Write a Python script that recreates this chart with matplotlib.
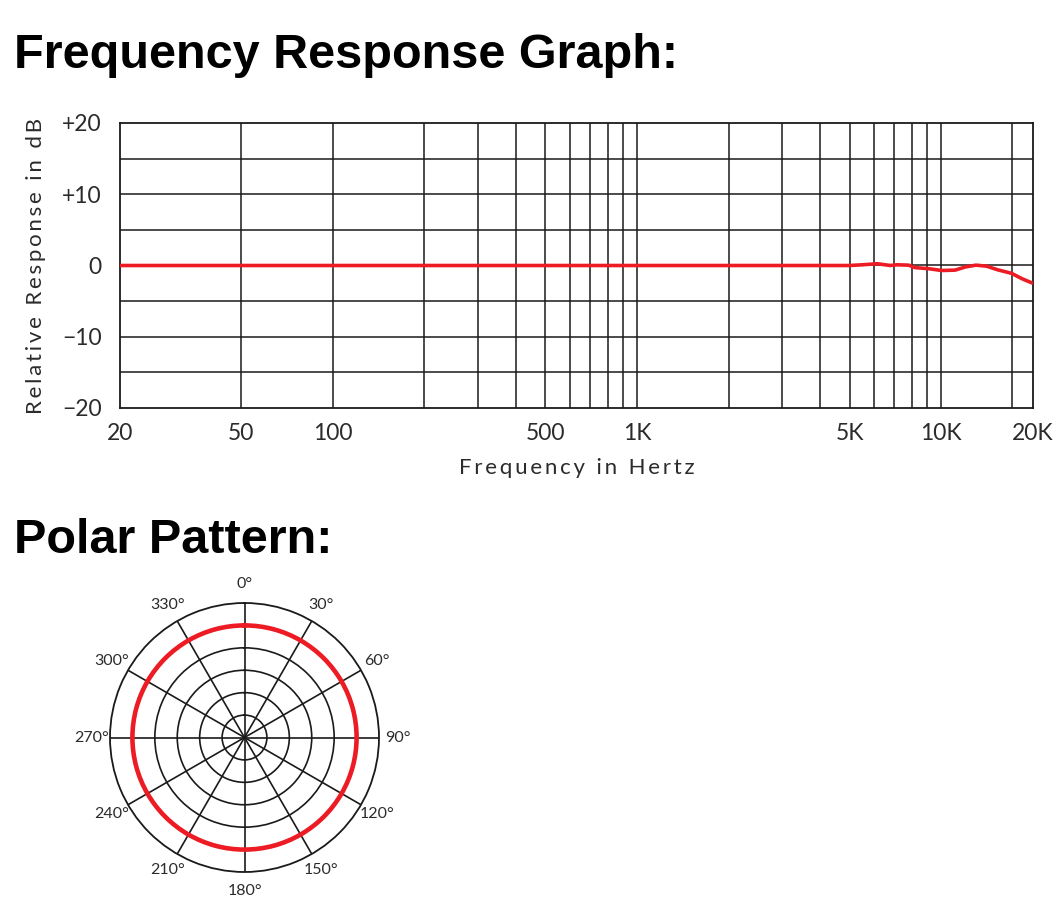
import numpy as np
import matplotlib
matplotlib.use("Agg")
import matplotlib.pyplot as plt

# frequency response
freqs = [20, 5000, 5500, 6150, 6800, 7150, 7800, 8200, 9100, 10000,
         11100, 12000, 13000, 14100, 15300, 17000, 18500, 20000]
response = [0, 0, 0.1, 0.25, 0.0, 0.1, 0.05, -0.3, -0.45, -0.7,
            -0.65, -0.2, 0.05, -0.1, -0.6, -1.1, -1.9, -2.5]

x_ticks = [20, 50, 100, 500, 1000, 5000, 10000, 20000]
x_labels = ["20", "50", "100", "500", "1K", "5K", "10K", "20K"]
x_grid = [50, 100, 200, 300, 400, 500, 600, 700, 800, 900, 1000,
          2000, 3000, 4000, 5000, 6000, 7000, 8000, 9000, 10000, 17000]
y_ticks = [-20, -10, 0, 10, 20]
y_labels = ["\u221220", "\u221210", "0", "+10", "+20"]
y_grid = [-15, -5, 5, 15]

# polar pattern (omni), level in dB
pattern_angles = [0, 30, 60, 90, 120, 150, 180, 210, 240, 270, 300, 330, 360]
pattern_level = [-5, -5, -5, -5, -5, -5, -5, -5, -5, -5, -5, -5, -5]
polar_angles = [0, 30, 60, 90, 120, 150, 180, 210, 240, 270, 300, 330]
polar_rings = [-25, -20, -15, -10, -5]

red = "#ed1c24"
grid_c = "#1a1a1a"
tick_c = "#2b2b2b"
fam = ["Lato", "DejaVu Sans"]


def spaced(s):
    # the labels in the original are set with wide tracking
    return "  ".join("\u2009".join(w) for w in s.split(" "))


fig = plt.figure(figsize=(10.61, 9.24), dpi=100)

fig.text(14 / 1061, 1 - 68 / 924, "Frequency Response Graph:",
         family="Liberation Sans", weight="bold", fontsize=35, va="baseline")
fig.text(14 / 1061, 1 - 553 / 924, "Polar Pattern:",
         family="Liberation Sans", weight="bold", fontsize=35, va="baseline")

# frequency response graph
ax = fig.add_axes([120 / 1061, 1 - 408 / 924, 913 / 1061, 285 / 924])
ax.set_xscale("log")
ax.set_xlim(20, 20000)
ax.set_ylim(-20, 20)
for f in x_grid:
    ax.axvline(f, color=grid_c, lw=1.1, zorder=1)
for v in y_grid + y_ticks[1:-1]:
    ax.axhline(v, color=grid_c, lw=1.1, zorder=1)
ax.plot(freqs, response, color=red, lw=2.6, zorder=3, solid_capstyle="butt")

ax.xaxis.set_minor_locator(matplotlib.ticker.NullLocator())
ax.set_xticks(x_ticks)
ax.set_xticklabels(x_labels)
ax.set_yticks(y_ticks)
ax.set_yticklabels(y_labels)
ax.tick_params(length=0, labelsize=16.5, labelcolor=tick_c)
ax.tick_params(axis="x", pad=11)
ax.tick_params(axis="y", pad=13)
for lab in ax.get_xticklabels() + ax.get_yticklabels():
    lab.set_family(fam)
for s in ax.spines.values():
    s.set_color(grid_c)
    s.set_linewidth(1.3)
ax.set_xlabel(spaced("Frequency in Hertz"), fontsize=16, color=tick_c,
              labelpad=10, family=fam)
ax.set_ylabel(spaced("Relative Response in dB"), fontsize=16, color=tick_c,
              labelpad=12, family=fam)

# polar pattern
pax = fig.add_axes([110 / 1061, 1 - 872 / 924, 269 / 1061, 269 / 924], projection="polar")
pax.set_theta_zero_location("N")
pax.set_theta_direction(-1)
pax.set_ylim(-30, 0)
pax.set_rticks(polar_rings)
pax.set_yticklabels([])
pax.set_thetagrids(polar_angles, [f"{a}\u00b0" for a in polar_angles])
pax.grid(True, color=grid_c, lw=1.2)
pax.spines["polar"].set_color(grid_c)
pax.spines["polar"].set_linewidth(1.3)
pax.tick_params(axis="x", pad=3, labelsize=11.5, labelcolor=tick_c)
for lab in pax.get_xticklabels():
    lab.set_family(fam)
line, = pax.plot(np.radians(pattern_angles), pattern_level, color=red, lw=3.3, zorder=3)
line.get_path()._interpolation_steps = 60

fig.savefig("out.png", dpi=100)
